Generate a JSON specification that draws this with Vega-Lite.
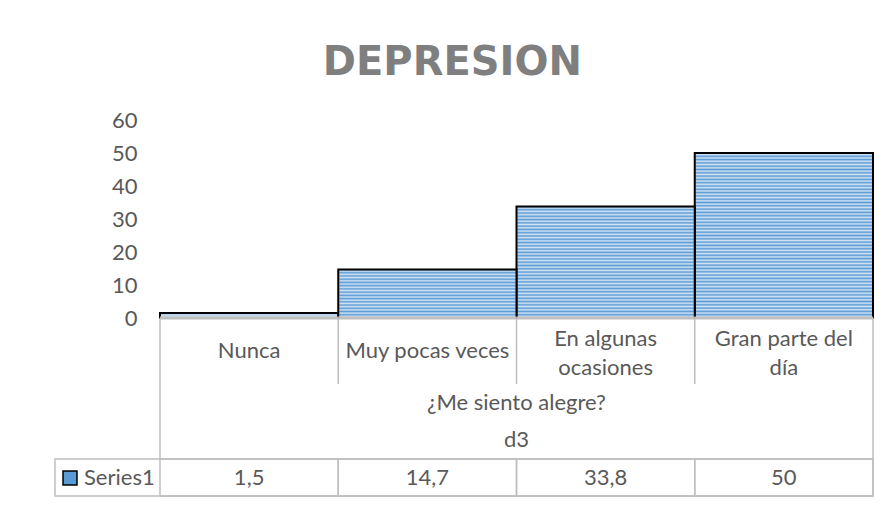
{
  "$schema": "https://vega.github.io/schema/vega-lite/v6.json",
  "background": "white",
  "padding": {"left": 54, "top": 43, "right": 16, "bottom": 9},
  "title": {"text": "DEPRESION", "font": "DejaVu Sans", "fontSize": 40, "fontWeight": "bold", "color": "#7F7F7F", "anchor": "middle", "offset": 26, "dx": -12},
  "config": {
    "view": {"stroke": null},
    "font": "Lato",
    "locale": {"number": {"decimal": ",", "thousands": ".", "grouping": [3], "currency": ["", " €"]}}
  },
  "resolve": {"scale": {"fill": "independent"}, "legend": {"fill": "independent"}},
  "spacing": 0,
  "bounds": "flush",
  "datasets": {
    "cats": [
      {"category": "Nunca", "label": "Nunca", "value": 1.5, "series": "Series1"},
      {"category": "Muy pocas veces", "label": "Muy pocas veces", "value": 14.7, "series": "Series1"},
      {"category": "En algunas ocasiones", "label": "En algunas\nocasiones", "value": 33.8, "series": "Series1"},
      {"category": "Gran parte del día", "label": "Gran parte del\ndía", "value": 50, "series": "Series1"}
    ],
    "groups": [
      {"label": "¿Me siento alegre?", "level": 1},
      {"label": "d3", "level": 2}
    ]
  },
  "vconcat": [
    {
      "width": 818,
      "height": 198,
      "data": {"name": "cats"},
      "encoding": {
        "x": {"field": "category", "type": "nominal", "axis": null,
              "scale": {"type": "band", "domain": ["Nunca", "Muy pocas veces", "En algunas ocasiones", "Gran parte del día"], "paddingInner": 0, "paddingOuter": 0.29453, "align": 1}},
        "y": {"field": "value", "type": "quantitative",
              "scale": {"domain": [0, 60], "nice": false},
              "axis": {"values": [0, 10, 20, 30, 40, 50, 60], "tickCount": 7, "labelOverlap": false, "offset": -105, "grid": false, "domain": false, "ticks": false, "tickSize": 0, "labelPadding": 23, "labelFontSize": 22, "labelColor": "#595959", "labelFont": "Lato", "title": null}}
      },
      "layer": [
        {
          "transform": [{"filter": "datum.value > 40"}],
          "mark": {
            "type": "bar",
            "stroke": "black",
            "strokeWidth": 2,
            "fill": {
              "gradient": "linear", "x1": 0, "y1": 0, "x2": 0, "y2": 1,
              "stops": [
                {"offset": 0, "color": "#5B9BD5"}, {"offset": 0.01, "color": "#D2E3F4"},
                {"offset": 0.02, "color": "#5B9BD5"}, {"offset": 0.03, "color": "#D2E3F4"},
                {"offset": 0.04, "color": "#5B9BD5"}, {"offset": 0.05, "color": "#D2E3F4"},
                {"offset": 0.06, "color": "#5B9BD5"}, {"offset": 0.07, "color": "#D2E3F4"},
                {"offset": 0.08, "color": "#5B9BD5"}, {"offset": 0.09, "color": "#D2E3F4"},
                {"offset": 0.10, "color": "#5B9BD5"}, {"offset": 0.11, "color": "#D2E3F4"},
                {"offset": 0.12, "color": "#5B9BD5"}, {"offset": 0.13, "color": "#D2E3F4"},
                {"offset": 0.14, "color": "#5B9BD5"}, {"offset": 0.15, "color": "#D2E3F4"},
                {"offset": 0.16, "color": "#5B9BD5"}, {"offset": 0.17, "color": "#D2E3F4"},
                {"offset": 0.18, "color": "#5B9BD5"}, {"offset": 0.19, "color": "#D2E3F4"},
                {"offset": 0.20, "color": "#5B9BD5"}, {"offset": 0.21, "color": "#D2E3F4"},
                {"offset": 0.22, "color": "#5B9BD5"}, {"offset": 0.23, "color": "#D2E3F4"},
                {"offset": 0.24, "color": "#5B9BD5"}, {"offset": 0.25, "color": "#D2E3F4"},
                {"offset": 0.26, "color": "#5B9BD5"}, {"offset": 0.27, "color": "#D2E3F4"},
                {"offset": 0.28, "color": "#5B9BD5"}, {"offset": 0.29, "color": "#D2E3F4"},
                {"offset": 0.30, "color": "#5B9BD5"}, {"offset": 0.31, "color": "#D2E3F4"},
                {"offset": 0.32, "color": "#5B9BD5"}, {"offset": 0.33, "color": "#D2E3F4"},
                {"offset": 0.34, "color": "#5B9BD5"}, {"offset": 0.35, "color": "#D2E3F4"},
                {"offset": 0.36, "color": "#5B9BD5"}, {"offset": 0.37, "color": "#D2E3F4"},
                {"offset": 0.38, "color": "#5B9BD5"}, {"offset": 0.39, "color": "#D2E3F4"},
                {"offset": 0.40, "color": "#5B9BD5"}, {"offset": 0.41, "color": "#D2E3F4"},
                {"offset": 0.42, "color": "#5B9BD5"}, {"offset": 0.43, "color": "#D2E3F4"},
                {"offset": 0.44, "color": "#5B9BD5"}, {"offset": 0.45, "color": "#D2E3F4"},
                {"offset": 0.46, "color": "#5B9BD5"}, {"offset": 0.47, "color": "#D2E3F4"},
                {"offset": 0.48, "color": "#5B9BD5"}, {"offset": 0.49, "color": "#D2E3F4"},
                {"offset": 0.50, "color": "#5B9BD5"}, {"offset": 0.51, "color": "#D2E3F4"},
                {"offset": 0.52, "color": "#5B9BD5"}, {"offset": 0.53, "color": "#D2E3F4"},
                {"offset": 0.54, "color": "#5B9BD5"}, {"offset": 0.55, "color": "#D2E3F4"},
                {"offset": 0.56, "color": "#5B9BD5"}, {"offset": 0.57, "color": "#D2E3F4"},
                {"offset": 0.58, "color": "#5B9BD5"}, {"offset": 0.59, "color": "#D2E3F4"},
                {"offset": 0.60, "color": "#5B9BD5"}, {"offset": 0.61, "color": "#D2E3F4"},
                {"offset": 0.62, "color": "#5B9BD5"}, {"offset": 0.63, "color": "#D2E3F4"},
                {"offset": 0.64, "color": "#5B9BD5"}, {"offset": 0.65, "color": "#D2E3F4"},
                {"offset": 0.66, "color": "#5B9BD5"}, {"offset": 0.67, "color": "#D2E3F4"},
                {"offset": 0.68, "color": "#5B9BD5"}, {"offset": 0.69, "color": "#D2E3F4"},
                {"offset": 0.70, "color": "#5B9BD5"}, {"offset": 0.71, "color": "#D2E3F4"},
                {"offset": 0.72, "color": "#5B9BD5"}, {"offset": 0.73, "color": "#D2E3F4"},
                {"offset": 0.74, "color": "#5B9BD5"}, {"offset": 0.75, "color": "#D2E3F4"},
                {"offset": 0.76, "color": "#5B9BD5"}, {"offset": 0.77, "color": "#D2E3F4"},
                {"offset": 0.78, "color": "#5B9BD5"}, {"offset": 0.79, "color": "#D2E3F4"},
                {"offset": 0.80, "color": "#5B9BD5"}, {"offset": 0.81, "color": "#D2E3F4"},
                {"offset": 0.82, "color": "#5B9BD5"}, {"offset": 0.83, "color": "#D2E3F4"},
                {"offset": 0.84, "color": "#5B9BD5"}, {"offset": 0.85, "color": "#D2E3F4"},
                {"offset": 0.86, "color": "#5B9BD5"}, {"offset": 0.87, "color": "#D2E3F4"},
                {"offset": 0.88, "color": "#5B9BD5"}, {"offset": 0.89, "color": "#D2E3F4"},
                {"offset": 0.90, "color": "#5B9BD5"}, {"offset": 0.91, "color": "#D2E3F4"},
                {"offset": 0.92, "color": "#5B9BD5"}, {"offset": 0.93, "color": "#D2E3F4"},
                {"offset": 0.94, "color": "#5B9BD5"}, {"offset": 0.95, "color": "#D2E3F4"},
                {"offset": 0.96, "color": "#5B9BD5"}, {"offset": 0.97, "color": "#D2E3F4"},
                {"offset": 0.98, "color": "#5B9BD5"}, {"offset": 0.99, "color": "#D2E3F4"},
                {"offset": 1, "color": "#5B9BD5"}
              ]
            }
          }
        },
        {
          "transform": [{"filter": "datum.value > 20 && datum.value <= 40"}],
          "mark": {
            "type": "bar",
            "stroke": "black",
            "strokeWidth": 2,
            "fill": {
              "gradient": "linear", "x1": 0, "y1": 0, "x2": 0, "y2": 1,
              "stops": [
                {"offset": 0, "color": "#5B9BD5"}, {"offset": 0.0147, "color": "#D2E3F4"},
                {"offset": 0.0294, "color": "#5B9BD5"}, {"offset": 0.0441, "color": "#D2E3F4"},
                {"offset": 0.0588, "color": "#5B9BD5"}, {"offset": 0.0735, "color": "#D2E3F4"},
                {"offset": 0.0882, "color": "#5B9BD5"}, {"offset": 0.1029, "color": "#D2E3F4"},
                {"offset": 0.1176, "color": "#5B9BD5"}, {"offset": 0.1324, "color": "#D2E3F4"},
                {"offset": 0.1471, "color": "#5B9BD5"}, {"offset": 0.1618, "color": "#D2E3F4"},
                {"offset": 0.1765, "color": "#5B9BD5"}, {"offset": 0.1912, "color": "#D2E3F4"},
                {"offset": 0.2059, "color": "#5B9BD5"}, {"offset": 0.2206, "color": "#D2E3F4"},
                {"offset": 0.2353, "color": "#5B9BD5"}, {"offset": 0.25, "color": "#D2E3F4"},
                {"offset": 0.2647, "color": "#5B9BD5"}, {"offset": 0.2794, "color": "#D2E3F4"},
                {"offset": 0.2941, "color": "#5B9BD5"}, {"offset": 0.3088, "color": "#D2E3F4"},
                {"offset": 0.3235, "color": "#5B9BD5"}, {"offset": 0.3382, "color": "#D2E3F4"},
                {"offset": 0.3529, "color": "#5B9BD5"}, {"offset": 0.3676, "color": "#D2E3F4"},
                {"offset": 0.3824, "color": "#5B9BD5"}, {"offset": 0.3971, "color": "#D2E3F4"},
                {"offset": 0.4118, "color": "#5B9BD5"}, {"offset": 0.4265, "color": "#D2E3F4"},
                {"offset": 0.4412, "color": "#5B9BD5"}, {"offset": 0.4559, "color": "#D2E3F4"},
                {"offset": 0.4706, "color": "#5B9BD5"}, {"offset": 0.4853, "color": "#D2E3F4"},
                {"offset": 0.5, "color": "#5B9BD5"}, {"offset": 0.5147, "color": "#D2E3F4"},
                {"offset": 0.5294, "color": "#5B9BD5"}, {"offset": 0.5441, "color": "#D2E3F4"},
                {"offset": 0.5588, "color": "#5B9BD5"}, {"offset": 0.5735, "color": "#D2E3F4"},
                {"offset": 0.5882, "color": "#5B9BD5"}, {"offset": 0.6029, "color": "#D2E3F4"},
                {"offset": 0.6176, "color": "#5B9BD5"}, {"offset": 0.6324, "color": "#D2E3F4"},
                {"offset": 0.6471, "color": "#5B9BD5"}, {"offset": 0.6618, "color": "#D2E3F4"},
                {"offset": 0.6765, "color": "#5B9BD5"}, {"offset": 0.6912, "color": "#D2E3F4"},
                {"offset": 0.7059, "color": "#5B9BD5"}, {"offset": 0.7206, "color": "#D2E3F4"},
                {"offset": 0.7353, "color": "#5B9BD5"}, {"offset": 0.75, "color": "#D2E3F4"},
                {"offset": 0.7647, "color": "#5B9BD5"}, {"offset": 0.7794, "color": "#D2E3F4"},
                {"offset": 0.7941, "color": "#5B9BD5"}, {"offset": 0.8088, "color": "#D2E3F4"},
                {"offset": 0.8235, "color": "#5B9BD5"}, {"offset": 0.8382, "color": "#D2E3F4"},
                {"offset": 0.8529, "color": "#5B9BD5"}, {"offset": 0.8676, "color": "#D2E3F4"},
                {"offset": 0.8824, "color": "#5B9BD5"}, {"offset": 0.8971, "color": "#D2E3F4"},
                {"offset": 0.9118, "color": "#5B9BD5"}, {"offset": 0.9265, "color": "#D2E3F4"},
                {"offset": 0.9412, "color": "#5B9BD5"}, {"offset": 0.9559, "color": "#D2E3F4"},
                {"offset": 0.9706, "color": "#5B9BD5"}, {"offset": 0.9853, "color": "#D2E3F4"},
                {"offset": 1, "color": "#5B9BD5"}
              ]
            }
          }
        },
        {
          "transform": [{"filter": "datum.value <= 20"}],
          "mark": {
            "type": "bar",
            "stroke": "black",
            "strokeWidth": 2,
            "fill": {
              "gradient": "linear", "x1": 0, "y1": 0, "x2": 0, "y2": 1,
              "stops": [
                {"offset": 0, "color": "#5B9BD5"}, {"offset": 0.0333, "color": "#D2E3F4"},
                {"offset": 0.0667, "color": "#5B9BD5"}, {"offset": 0.1, "color": "#D2E3F4"},
                {"offset": 0.1333, "color": "#5B9BD5"}, {"offset": 0.1667, "color": "#D2E3F4"},
                {"offset": 0.2, "color": "#5B9BD5"}, {"offset": 0.2333, "color": "#D2E3F4"},
                {"offset": 0.2667, "color": "#5B9BD5"}, {"offset": 0.3, "color": "#D2E3F4"},
                {"offset": 0.3333, "color": "#5B9BD5"}, {"offset": 0.3667, "color": "#D2E3F4"},
                {"offset": 0.4, "color": "#5B9BD5"}, {"offset": 0.4333, "color": "#D2E3F4"},
                {"offset": 0.4667, "color": "#5B9BD5"}, {"offset": 0.5, "color": "#D2E3F4"},
                {"offset": 0.5333, "color": "#5B9BD5"}, {"offset": 0.5667, "color": "#D2E3F4"},
                {"offset": 0.6, "color": "#5B9BD5"}, {"offset": 0.6333, "color": "#D2E3F4"},
                {"offset": 0.6667, "color": "#5B9BD5"}, {"offset": 0.7, "color": "#D2E3F4"},
                {"offset": 0.7333, "color": "#5B9BD5"}, {"offset": 0.7667, "color": "#D2E3F4"},
                {"offset": 0.8, "color": "#5B9BD5"}, {"offset": 0.8333, "color": "#D2E3F4"},
                {"offset": 0.8667, "color": "#5B9BD5"}, {"offset": 0.9, "color": "#D2E3F4"},
                {"offset": 0.9333, "color": "#5B9BD5"}, {"offset": 0.9667, "color": "#D2E3F4"},
                {"offset": 1, "color": "#5B9BD5"}
              ]
            }
          }
        },
        {
          "mark": {"type": "bar", "fill": "transparent", "stroke": "#BFBFBF", "strokeWidth": 3},
          "encoding": {
            "y": {"datum": 0, "type": "quantitative"},
            "y2": {"datum": 0}
          }
        }
      ]
    },
    {
      "width": 818,
      "height": 66,
      "data": {"name": "cats"},
      "encoding": {
        "x": {"field": "category", "type": "nominal", "axis": null,
              "scale": {"type": "band", "domain": ["Nunca", "Muy pocas veces", "En algunas ocasiones", "Gran parte del día"], "paddingInner": 0, "paddingOuter": 0.29453, "align": 1}}
      },
      "layer": [
        {
          "mark": {"type": "rule", "stroke": "#BFBFBF", "strokeWidth": 1.5},
          "encoding": {
            "x": {"field": "category", "type": "nominal", "axis": null, "bandPosition": 0}
          }
        },
        {
          "transform": [{"filter": "datum.category === 'Gran parte del día'"}],
          "mark": {"type": "rule", "stroke": "#BFBFBF", "strokeWidth": 1.5},
          "encoding": {
            "x": {"field": "category", "type": "nominal", "axis": null, "bandPosition": 1}
          }
        },
        {
          "transform": [{"filter": {"field": "category", "oneOf": ["Nunca", "Muy pocas veces"]}}],
          "mark": {"type": "text", "font": "Lato", "fontSize": 22, "color": "#595959", "baseline": "middle"},
          "encoding": {
            "text": {"field": "label"}
          }
        },
        {
          "transform": [{"filter": {"field": "category", "oneOf": ["En algunas ocasiones", "Gran parte del día"]}}],
          "mark": {"type": "text", "font": "Lato", "fontSize": 22, "color": "#595959", "lineBreak": "\n", "lineHeight": 29, "baseline": "middle", "dy": -12.5},
          "encoding": {
            "text": {"field": "label"}
          }
        }
      ]
    },
    {
      "width": 818,
      "height": 75,
      "layer": [
        {
          "data": {"name": "cats"},
          "transform": [{"filter": "datum.category === 'Nunca'"}],
          "mark": {"type": "rule", "stroke": "#BFBFBF", "strokeWidth": 1.5},
          "encoding": {
            "x": {"field": "category", "type": "nominal", "axis": null, "bandPosition": 0,
                  "scale": {"type": "band", "domain": ["Nunca", "Muy pocas veces", "En algunas ocasiones", "Gran parte del día"], "paddingInner": 0, "paddingOuter": 0.29453, "align": 1}}
          }
        },
        {
          "data": {"name": "cats"},
          "transform": [{"filter": "datum.category === 'Gran parte del día'"}],
          "mark": {"type": "rule", "stroke": "#BFBFBF", "strokeWidth": 1.5},
          "encoding": {
            "x": {"field": "category", "type": "nominal", "axis": null, "bandPosition": 1,
                  "scale": {"type": "band", "domain": ["Nunca", "Muy pocas veces", "En algunas ocasiones", "Gran parte del día"], "paddingInner": 0, "paddingOuter": 0.29453, "align": 1}}
          }
        },
        {
          "data": {"name": "groups"},
          "mark": {"type": "text", "font": "Lato", "fontSize": 22, "color": "#595959", "baseline": "middle"},
          "encoding": {
            "x": {"datum": "En algunas ocasiones", "type": "nominal", "axis": null, "bandPosition": 0,
                  "scale": {"type": "band", "domain": ["Nunca", "Muy pocas veces", "En algunas ocasiones", "Gran parte del día"], "paddingInner": 0, "paddingOuter": 0.29453, "align": 1}},
            "y": {"field": "level", "type": "ordinal", "axis": null, "scale": {"type": "band", "paddingInner": 0, "paddingOuter": 0}},
            "text": {"field": "label"}
          }
        }
      ]
    },
    {
      "width": 818,
      "height": 37,
      "view": {"stroke": "#BFBFBF", "strokeWidth": 1.5},
      "data": {"name": "cats"},
      "encoding": {
        "x": {"field": "category", "type": "nominal", "axis": null,
              "scale": {"type": "band", "domain": ["Nunca", "Muy pocas veces", "En algunas ocasiones", "Gran parte del día"], "paddingInner": 0, "paddingOuter": 0.29453, "align": 1}}
      },
      "layer": [
        {
          "mark": {"type": "rect", "fillOpacity": 0, "stroke": "#BFBFBF", "strokeWidth": 1.5},
          "encoding": {
            "fill": {"field": "series", "type": "nominal", "scale": {"range": ["#5B9BD5"]},
                     "legend": {"title": null, "orient": "none", "legendX": 4, "legendY": 8, "padding": 0, "symbolType": "square", "symbolSize": 196, "symbolStrokeColor": "black", "symbolStrokeWidth": 1.5, "symbolOpacity": 1, "symbolFillColor": "#5B9BD5", "labelFont": "Lato", "labelFontSize": 22, "labelColor": "#595959", "labelOffset": 3}}
          }
        },
        {
          "mark": {"type": "text", "font": "Lato", "fontSize": 22, "color": "#595959", "baseline": "middle"},
          "encoding": {
            "text": {"field": "value", "type": "quantitative", "format": ".1~f"}
          }
        }
      ]
    }
  ]
}
